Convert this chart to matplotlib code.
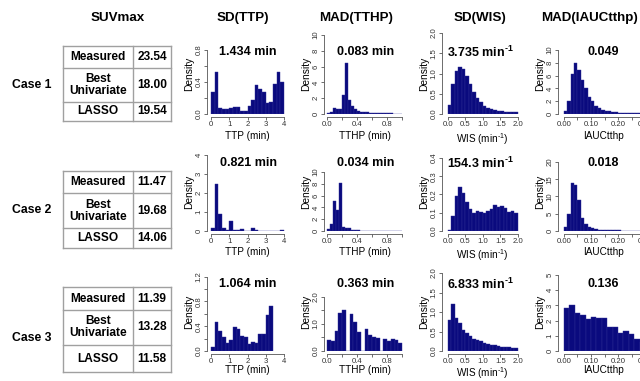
import matplotlib
matplotlib.use('Agg')
import matplotlib.pyplot as plt
import numpy as np

plt.rcParams['font.family'] = ['Liberation Sans', 'DejaVu Sans']
plt.rcParams['mathtext.fontset'] = 'custom'
plt.rcParams['mathtext.rm'] = 'Liberation Sans'
plt.rcParams['mathtext.bf'] = 'Liberation Sans:bold'

W, H = 640, 381

# ---- data ----
cases = ['Case 1', 'Case 2', 'Case 3']
suv_labels = ['Measured', 'Best\nUnivariate', 'LASSO']
suv_case1 = ['23.54', '18.00', '19.54']
suv_case2 = ['11.47', '19.68', '14.06']
suv_case3 = ['11.39', '13.28', '11.58']
col_titles = ['SUVmax', 'SD(TTP)', 'MAD(TTHP)', 'SD(WIS)', 'MAD(IAUCtthp)']
x_labels = ['TTP (min)', 'TTHP (min)', 'WIS (min$^{\u20101}$)', 'IAUCtthp']
stats_case1 = ['1.434 min', '0.083 min', '3.735 min$^{\\mathbf{\u20101}}$', '0.049']
stats_case2 = ['0.821 min', '0.034 min', '154.3 min$^{\\mathbf{\u20101}}$', '0.018']
stats_case3 = ['1.064 min', '0.363 min', '6.833 min$^{\\mathbf{\u20101}}$', '0.136']

# histogram densities (bins start at 0)
ttp_case1 = [0.27, 0.52, 0.08, 0.06, 0.06, 0.08, 0.09, 0.09, 0.04, 0.04,
             0.10, 0.17, 0.36, 0.31, 0.27, 0.14, 0.15, 0.38, 0.52, 0.40]
tthp_case1 = [0.1, 0.3, 0.7, 0.6, 0.6, 2.4, 6.5, 1.8, 1.0, 0.6, 0.4, 0.3, 0.3,
              0.2, 0.1, 0.1, 0.1, 0.1, 0.1, 0.1, 0.15, 0.1, 0.05, 0.05, 0.05]
wis_case1 = [0.22, 0.75, 1.05, 1.15, 1.10, 0.95, 0.75, 0.55, 0.40, 0.30,
             0.20, 0.15, 0.12, 0.10, 0.08, 0.07, 0.06, 0.05, 0.05, 0.04]
iauc_case1 = [0.4, 2.1, 6.2, 8.0, 6.9, 5.3, 4.0, 2.6, 2.0, 1.3, 1.0, 0.7,
              0.5, 0.4, 0.3, 0.25, 0.2, 0.15, 0.12, 0.1, 0.1, 0.08, 0.08]
ttp_case2 = [0.18, 2.45, 0.90, 0.15, 0.05, 0.55, 0.05, 0.03, 0.10, 0.02,
             0.02, 0.15, 0.05, 0.02, 0.01, 0.02, 0.01, 0.02, 0.02, 0.06]
tthp_case2 = [0.3, 1.2, 5.0, 3.5, 8.2, 0.6, 0.5, 0.5, 0.2, 0.1, 0.1, 0.05,
              0.05, 0.05, 0.05, 0.05, 0.05, 0.05, 0.05, 0.05, 0.05, 0.05, 0.05, 0.05, 0.05]
wis_case2 = [0.005, 0.08, 0.19, 0.24, 0.21, 0.16, 0.12, 0.10, 0.11, 0.105,
             0.10, 0.11, 0.12, 0.14, 0.13, 0.135, 0.125, 0.105, 0.11, 0.10]
iauc_case2 = [1.2, 5.0, 13.8, 13.2, 9.0, 3.9, 2.0, 1.3, 0.8, 0.5, 0.4, 0.3,
              0.25, 0.2, 0.2, 0.15, 0.15, 0.1, 0.1, 0.1, 0.1, 0.1, 0.1]
ttp_case3 = [0.07, 0.47, 0.33, 0.23, 0.13, 0.18, 0.39, 0.35, 0.25, 0.22,
             0.12, 0.15, 0.13, 0.28, 0.28, 0.58, 0.72]
tthp_case3 = [0.42, 0.35, 0.75, 1.40, 1.50, 0.0, 1.35, 1.05, 0.70, 0.0,
              0.80, 0.60, 0.50, 0.48, 0.0, 0.45, 0.38, 0.45, 0.40, 0.30]
wis_case3 = [0.80, 1.20, 0.85, 0.72, 0.55, 0.45, 0.38, 0.30, 0.27, 0.25,
             0.20, 0.18, 0.16, 0.15, 0.13, 0.11, 0.11, 0.09, 0.08, 0.07]
iauc_case3 = [2.8, 3.0, 2.5, 2.4, 2.1, 2.25, 2.2, 2.2, 1.6, 1.6, 1.2, 1.3,
              1.1, 0.8, 0.6, 0.5]

density = [[ttp_case1, tthp_case1, wis_case1, iauc_case1],
           [ttp_case2, tthp_case2, wis_case2, iauc_case2],
           [ttp_case3, tthp_case3, wis_case3, iauc_case3]]
bin_width = [[0.2, 0.04, 0.1, 0.0125],
             [0.2, 0.04, 0.1, 0.0125],
             [0.2, 0.05, 0.1, 0.02]]

# ---- layout (pixels) ----
col_px = [(207, 288, (-0.22, 4.22)), (324, 405, (-0.04, 1.04)),
          (442, 522, (-0.17, 2.12)), (558, 650, (-0.022, 0.318))]
row_px = [(33, 114), (153, 231), (273, 351)]
ylims = [[1.01, 10.25, 2.0, 12.66],
         [4.1, 13.2, 0.427, 22.6],
         [1.26, 2.87, 2.0, 5.13]]
yticks = [[[0, 0.2, 0.4, 0.6, 0.8], [0, 2, 4, 6, 8, 10], [0, 0.5, 1.0, 1.5, 2.0], [0, 2, 4, 6, 8, 10]],
          [[0, 1, 2, 3, 4], [0, 2, 4, 6, 8, 10], [0, 0.1, 0.2, 0.3, 0.4], [0, 5, 10, 15, 20]],
          [[0, 0.2, 0.4, 0.6, 0.8, 1.0, 1.2], [0, 0.5, 1.0, 1.5, 2.0], [0, 0.5, 1.0, 1.5, 2.0], [0, 1, 2, 3, 4, 5]]]
ylab_fmt = [['{:.1f}', '{:g}', '{:.1f}', '{:g}'],
            ['{:g}', '{:g}', '{:.1f}', '{:g}'],
            ['{:.1f}', '{:.1f}', '{:.1f}', '{:g}']]
ylab_every = [[2, 1, 1, 1], [1, 1, 1, 1], [2, 2, 1, 1]]
xticks = [[0, 1, 2, 3, 4], [0, 0.2, 0.4, 0.6, 0.8, 1.0],
          [0, 0.5, 1.0, 1.5, 2.0], [0, 0.05, 0.1, 0.15, 0.2, 0.25, 0.3]]
xlab_text = [['0', '1', '2', '3', '4'], ['0.0', '', '0.4', '', '0.8', ''],
             ['0.0', '0.5', '1.0', '1.5', '2.0'], ['0.00', '', '0.10', '', '0.20', '', '0.30']]
xlabel_pad = [2.5, 1.5, 0.3]

bar_color = '#0a0a7e'
axis_color = '#555555'

fig = plt.figure(figsize=(W / 100, H / 100), dpi=100)
bg = fig.add_axes([0, 0, 1, 1])
bg.set_xlim(0, W)
bg.set_ylim(H, 0)
bg.axis('off')

# column headers
for x, t in zip([118, 243, 356, 480, 590], col_titles):
    bg.text(x, 18, t, ha='center', va='center', fontsize=9.6, fontweight='bold')

# case labels + SUV tables
case_y = [85, 210, 338]
table_rows = [(46, 68, 102, 121), (171, 193, 228, 248), (287, 310, 345, 372)]
suv_values = [suv_case1, suv_case2, suv_case3]
line_kw = dict(color='#a0a0a0', lw=1.0)
for ci in range(3):
    bg.text(32, case_y[ci], cases[ci], ha='center', va='center', fontsize=8.8, fontweight='bold')
    ys = table_rows[ci]
    x0, xm, x1 = 63, 133, 171
    for y in ys:
        bg.plot([x0, x1], [y, y], **line_kw)
    for x in (x0, xm, x1):
        bg.plot([x, x], [ys[0], ys[-1]], **line_kw)
    for ri in range(3):
        yc = (ys[ri] + ys[ri + 1]) / 2
        bg.text((x0 + xm) / 2, yc, suv_labels[ri], ha='center', va='center',
                fontsize=8.6, fontweight='bold', linespacing=1.0)
        bg.text((xm + x1) / 2, yc, suv_values[ci][ri], ha='center', va='center',
                fontsize=8.6, fontweight='bold')

stats = [stats_case1, stats_case2, stats_case3]
title_y = [52, 163, 284]
title_x = [248, 366, 480, 603]

for r in range(3):
    top, bot = row_px[r]
    for c in range(4):
        left, right, xl = col_px[c]
        ax = fig.add_axes([left / W, 1 - bot / H, (right - left) / W, (bot - top) / H])
        ax.patch.set_alpha(0)
        d = density[r][c]
        bw = bin_width[r][c]
        starts = np.arange(len(d)) * bw
        ax.bar(starts, d, width=bw, align='edge', color=bar_color,
               edgecolor='#2e2e96', linewidth=0.3)
        ax.set_xlim(*xl)
        ax.set_ylim(0, ylims[r][c])
        for s in ('top', 'right'):
            ax.spines[s].set_visible(False)
        for s in ('left', 'bottom'):
            ax.spines[s].set_color(axis_color)
            ax.spines[s].set_linewidth(0.6)
        ax.spines['bottom'].set_position(('outward', 2))
        yt = yticks[r][c]
        ylabs = [ylab_fmt[r][c].format(v) if i % ylab_every[r][c] == 0 else ''
                 for i, v in enumerate(yt)]
        ax.set_yticks(yt, ylabs)
        ax.spines['left'].set_bounds(yt[0], yt[-1])
        ax.set_xticks(xticks[c], xlab_text[c])
        ax.spines['bottom'].set_bounds(xticks[c][0], xticks[c][-1])
        ax.tick_params(labelsize=5.6, length=2, width=0.5, pad=1, colors='#333333')
        for lab in ax.get_yticklabels():
            lab.set_rotation(90)
            lab.set_va('center')
        ax.set_ylabel('Density', fontsize=7.4, labelpad=1)
        ax.set_xlabel(x_labels[c], fontsize=7.2, labelpad=xlabel_pad[r])
        bg.text(title_x[c], title_y[r], stats[r][c], ha='center', va='center',
                fontsize=9, fontweight='bold', zorder=5)

fig.savefig('out.png', dpi=100)
